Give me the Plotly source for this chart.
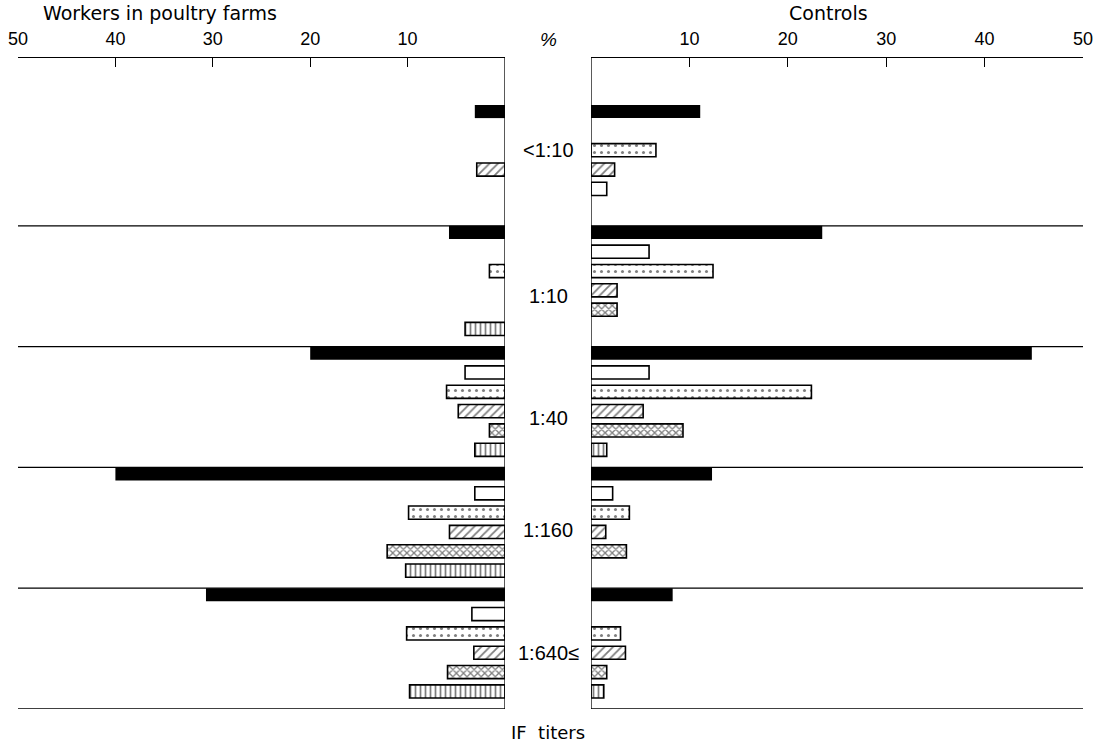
import plotly.graph_objects as go
import numpy as np

categories = ["<1:10", "1:10", "1:40", "1:160", "1:640\u2264"]
series = ["total", "white", "dotted", "hatched", "crosshatched", "vertical"]

workers_total = [3.1, 5.75, 20.0, 40.0, 30.7]
workers_white = [None, None, 4.1, 3.1, 3.4]
workers_dotted = [None, 1.6, 6.0, 9.9, 10.1]
workers_hatched = [2.9, None, 4.8, 5.7, 3.2]
workers_cross = [None, None, 1.6, 12.1, 5.9]
workers_vertical = [None, 4.1, 3.1, 10.2, 9.8]

controls_total = [11.1, 23.5, 44.8, 12.3, 8.3]
controls_white = [None, 5.9, 5.9, 2.2, None]
controls_dotted = [6.6, 12.4, 22.4, 3.9, 3.0]
controls_hatched = [2.4, 2.65, 5.3, 1.5, 3.5]
controls_cross = [1.6, 2.65, 9.35, 3.6, 1.6]
controls_vertical = [None, None, 1.6, None, 1.3]

tick_vals = [10, 20, 30, 40, 50]
tick_text = ["10", "20", "30", "40", "50"]

workers = [workers_total, workers_white, workers_dotted, workers_hatched, workers_cross, workers_vertical]
controls = [controls_total, controls_white, controls_dotted, controls_hatched, controls_cross, controls_vertical]

GROUP = 6.25       # slots per group
OFFSET = 0.34      # first bar offset below the separator
BARW = 0.68
Y_TOP = -2.43
Y_BOT = 5 * GROUP

styles = [
    dict(color="black", line=dict(color="black", width=0)),
    dict(color="white", line=dict(color="black", width=1.6)),
    dict(color="white", line=dict(color="black", width=1.6),
         pattern=dict(shape=".", fgcolor="black", bgcolor="white", size=7, solidity=0.15)),
    dict(color="white", line=dict(color="black", width=1.6),
         pattern=dict(shape="/", fgcolor="black", bgcolor="white", size=6, solidity=0.3)),
    dict(color="white", line=dict(color="black", width=1.6),
         pattern=dict(shape="x", fgcolor="black", bgcolor="white", size=5, solidity=0.45)),
    dict(color="white", line=dict(color="black", width=1.6),
         pattern=dict(shape="|", fgcolor="black", bgcolor="white", size=5, solidity=0.35)),
]

fig = go.Figure()
for side, data, xa in [("w", workers, "x"), ("c", controls, "x2")]:
    for s, vals in enumerate(data):
        ys = [g * GROUP + OFFSET + s for g in range(len(categories))]
        m = dict(styles[s])
        if side == "c" and s == 4:
            p = dict(m["pattern"])
            p["shape"] = ["", "x", "x", "x", "x"]
            m["pattern"] = p
        fig.add_trace(go.Bar(
            x=vals, y=ys, orientation="h", width=BARW, marker=m,
            xaxis=xa, yaxis="y", showlegend=False, name=series[s],
        ))

W, H = 1104, 744
xl0, xl1 = 18 / W, 505 / W
xr0, xr1 = 591 / W, 1083 / W
ybot, ytop = 1 - 709 / H, 1 - 58 / H

font = "Liberation Sans, DejaVu Sans, sans-serif"
axis_common = dict(
    side="top", showline=True, linecolor="black", linewidth=1.3,
    ticks="inside", ticklen=9, tickcolor="black", tickwidth=1.3,
    tickvals=tick_vals, ticktext=tick_text, showgrid=False, zeroline=False,
    tickfont=dict(family=font, size=18, color="black"), anchor="y",
    automargin=False, ticklabelstandoff=5,
)
fig.update_layout(
    width=W, height=H, margin=dict(l=0, r=0, t=0, b=0, autoexpand=False),
    paper_bgcolor="white", plot_bgcolor="white", barmode="overlay",
    xaxis=dict(domain=[xl0, xl1], range=[50, 0], **axis_common),
    xaxis2=dict(domain=[xr0, xr1], range=[0, 50], **axis_common),
    yaxis=dict(domain=[ybot, ytop], range=[Y_BOT, Y_TOP], showticklabels=False,
               showgrid=False, zeroline=False, showline=False, ticks="", automargin=False),
)

shapes = []
for xr in ["x domain", "x2 domain"]:
    for g in range(1, 6):
        shapes.append(dict(type="line", xref=xr, yref="y", x0=0, x1=1,
                           y0=g * GROUP, y1=g * GROUP, line=dict(color="black", width=1.3)))
for xr, xv in [("x", 0), ("x2", 0)]:
    shapes.append(dict(type="line", xref=xr, yref="y", x0=xv, x1=xv,
                       y0=Y_TOP, y1=Y_BOT, line=dict(color="black", width=1.3)))
fig.update_layout(shapes=shapes)

label_slot = [2.0, 3.3, 3.35, 2.9, 3.0]
ann = []
xc = 548 / W
for g, c in enumerate(categories):
    ann.append(dict(x=xc, xref="paper", y=g * GROUP + OFFSET + label_slot[g], yref="y",
                    text=c.replace("<", "&lt;"), showarrow=False, yanchor="middle", xanchor="center",
                    font=dict(family=font, size=20, color="black")))
tfont = dict(family="DejaVu Sans, sans-serif", size=19, color="black")
ann.append(dict(x=160 / W, y=1 - 13 / H, xref="paper", yref="paper", text="Workers in poultry farms",
                showarrow=False, yanchor="middle", xanchor="center", font=tfont))
ann.append(dict(x=828 / W, y=1 - 13 / H, xref="paper", yref="paper", text="Controls",
                showarrow=False, yanchor="middle", xanchor="center", font=tfont))
ann.append(dict(x=xc, y=1 - 40 / H, xref="paper", yref="paper", text="<i>%</i>",
                showarrow=False, yanchor="middle", xanchor="center",
                font=dict(family=font, size=19, color="black")))
ann.append(dict(x=xc, y=1 - 732 / H, xref="paper", yref="paper", text="IF  titers",
                showarrow=False, yanchor="middle", xanchor="center",
                font=dict(family="DejaVu Sans, sans-serif", size=18, color="black")))
fig.update_layout(annotations=ann)

fig.write_html("out.html", config={"displayModeBar": False},
               post_script="document.body.style.margin='0';document.body.style.overflow='hidden';")
